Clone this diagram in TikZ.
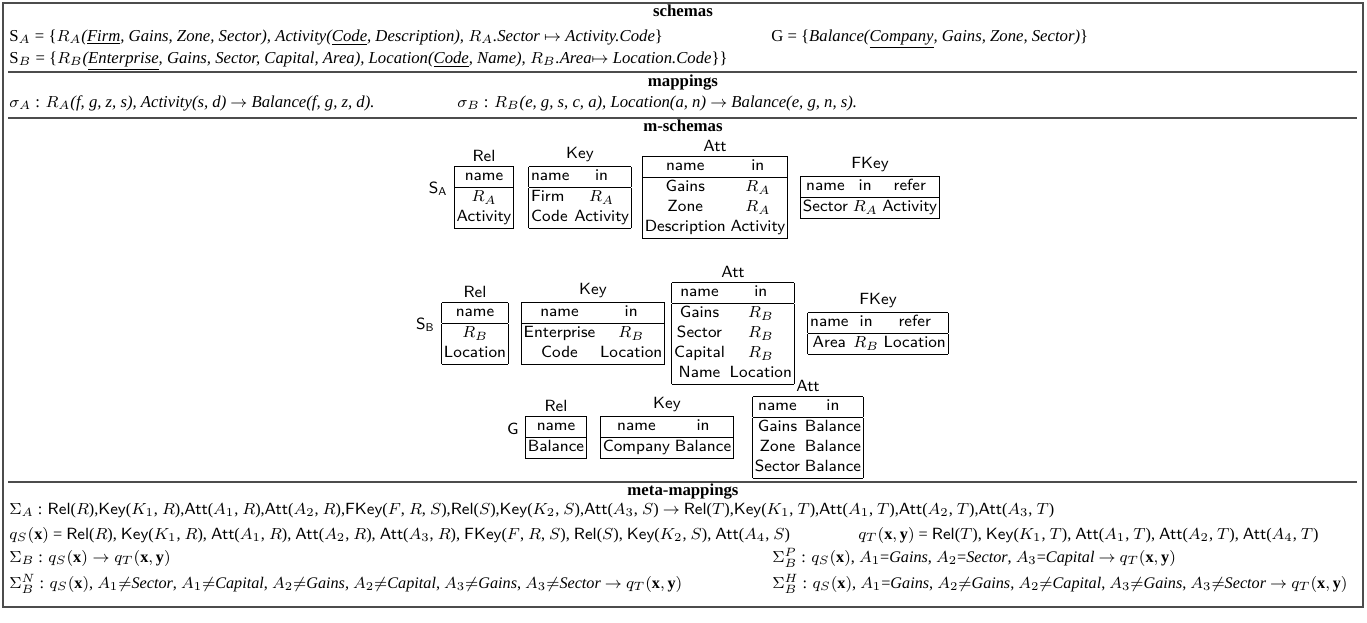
\documentclass[tikz,border=0pt]{standalone}
\usepackage{fontspec}
\setmainfont{Liberation Serif}
\usetikzlibrary{positioning}
\newcommand{\uln}[1]{\underline{#1}}
\newcommand{\bx}{\mathbf{x}}
\newcommand{\by}{\mathbf{y}}
\setlength{\arrayrulewidth}{0.5pt}
\setlength{\tabcolsep}{1.2pt}
\renewcommand{\arraystretch}{1.0}
\begin{document}
\begin{tikzpicture}[x=0.5pt,y=-0.5pt,
  txt/.style={anchor=base west,inner sep=0pt,font=\fontsize{8.35}{10}\selectfont},
  mtxt/.style={anchor=base west,inner sep=0pt,font=\fontsize{8.1}{10}\selectfont},
  hdr/.style={anchor=base,inner sep=0pt,font=\fontsize{8.4}{10}\selectfont\bfseries},
  tbl/.style={inner sep=0pt,font=\fontsize{8.1}{10}\selectfont\sffamily},
  tlab/.style={anchor=south,inner sep=0pt,yshift=1.5pt,font=\fontsize{8.1}{10}\selectfont\sffamily},
  slab/.style={anchor=east,inner sep=0pt,font=\fontsize{8.1}{10}\selectfont\sffamily},
  sepline/.style={draw=black!70,line width=0.7pt},
  framebox/.style={draw=black!70,line width=0.6pt}]
\useasboundingbox (0,0) rectangle (1367,622);
\draw[framebox] (3,3) rectangle (1363,607);
% separators
\coordinate (s1a) at (8,72); \coordinate (s1b) at (1357,72);
\coordinate (s2a) at (8,118); \coordinate (s2b) at (1357,118);
\coordinate (s3a) at (8,482); \coordinate (s3b) at (1357,482);
\draw[sepline] (s1a) -- (s1b);
\draw[sepline] (s2a) -- (s2b);
\draw[sepline] (s3a) -- (s3b);
% headers
\node[hdr] (hschemas) at (683,16) {schemas};
\node[hdr] (hmappings) at (683,86) {mappings};
\node[hdr] (hmschemas) at (683,131) {m-schemas};
\node[hdr] (hmeta) at (683,495) {meta-mappings};
% schemas
\node[txt] (sa) at (9,41) {S$_A$ = \{\textit{$R_A$(\uln{Firm}, Gains, Zone, Sector), Activity(\uln{Code}, Description), $R_A$.Sector} $\mapsto$ \textit{Activity.Code}\}};
\node[txt] (g) at (771,41) {G = \{\textit{Balance(\uln{Company}, Gains, Zone, Sector)}\}};
\node[txt] (sb) at (9,63) {S$_B$ = \{\textit{$R_B$(\uln{Enterprise}, Gains, Sector, Capital, Area), Location(\uln{Code}, Name), $R_B$.Area}$\mapsto$ \textit{Location.Code}\}\}};
% mappings
\node[txt] (siga) at (9,107) {$\sigma_A$ : \textit{$R_A$(f, g, z, s), Activity(s, d)} $\rightarrow$ \textit{Balance(f, g, z, d).}};
\node[txt] (sigb) at (457,107) {$\sigma_B$ : \textit{$R_B$(e, g, s, c, a), Location(a, n)} $\rightarrow$ \textit{Balance(e, g, n, s).}};
% m-schemas S_A
\node[tbl] (saRel) at (484,197) {\begin{tabular}{|c|}\hline name\\\hline $R_A$\\ Activity\\\hline\end{tabular}};
\node[tlab] (saRelL) at (saRel.north) {Rel};
\node[slab] (saL) at ([xshift=-3pt,yshift=4pt]saRel.west) {S\textsubscript{A}};
\node[tbl] (saKey) at (580,197) {\begin{tabular}{|lc|}\hline name & in\\\hline Firm & $R_A$\\ Code & Activity\\\hline\end{tabular}};
\node[tlab] (saKeyL) at (saKey.north) {Key};
\node[tbl] (saAtt) at (715,197) {\begin{tabular}{|cc|}\hline name & in\\\hline Gains & $R_A$\\ Zone & $R_A$\\ Description & Activity\\\hline\end{tabular}};
\node[tlab] (saAttL) at (saAtt.north) {Att};
\node[tbl] (saFKey) at (870,197) {\begin{tabular}{|ccc|}\hline name & in & refer\\\hline Sector & $R_A$ & Activity\\\hline\end{tabular}};
\node[tlab] (saFKeyL) at (saFKey.north) {FKey};
% m-schemas S_B
\node[tbl] (sbRel) at (475,333) {\begin{tabular}{|c|}\hline name\\\hline $R_B$\\ Location\\\hline\end{tabular}};
\node[tlab] (sbRelL) at (sbRel.north) {Rel};
\node[slab] (sbL) at ([xshift=-3pt,yshift=4pt]sbRel.west) {S\textsubscript{B}};
\node[tbl] (sbKey) at (593,333) {\begin{tabular}{|cc|}\hline name & in\\\hline Enterprise & $R_B$\\ Code & Location\\\hline\end{tabular}};
\node[tlab] (sbKeyL) at (sbKey.north) {Key};
\node[tbl] (sbAtt) at (733,333) {\begin{tabular}{|cc|}\hline name & in\\\hline Gains & $R_B$\\ Sector & $R_B$\\ Capital & $R_B$\\ Name & Location\\\hline\end{tabular}};
\node[tlab] (sbAttL) at (sbAtt.north) {Att};
\node[tbl] (sbFKey) at (878,333) {\begin{tabular}{|ccc|}\hline name & in & refer\\\hline Area & $R_B$ & Location\\\hline\end{tabular}};
\node[tlab] (sbFKeyL) at (sbFKey.north) {FKey};
% m-schemas G
\node[tbl] (gRel) at (556,437) {\begin{tabular}{|c|}\hline name\\\hline Balance\\\hline\end{tabular}};
\node[tlab] (gRelL) at (gRel.north) {Rel};
\node[slab] (gL) at ([xshift=-3pt,yshift=4pt]gRel.west) {G};
\node[tbl] (gKey) at (667,437) {\begin{tabular}{|cc|}\hline name & in\\\hline Company & Balance\\\hline\end{tabular}};
\node[tlab] (gKeyL) at (gKey.north) {Key};
\node[tbl] (gAtt) at (808,437) {\begin{tabular}{|cc|}\hline name & in\\\hline Gains & Balance\\ Zone & Balance\\ Sector & Balance\\\hline\end{tabular}};
\node[tlab] (gAttL) at (gAtt.north) {Att};
% meta-mappings
\node[mtxt] (SigA) at (9,514) {$\Sigma_A$ : \textsf{Rel}($R$),\textsf{Key}($K_1$, $R$),\textsf{Att}($A_1$, $R$),\textsf{Att}($A_2$, $R$),\textsf{FKey}($F$, $R$, $S$),\textsf{Rel}($S$),\textsf{Key}($K_2$, $S$),\textsf{Att}($A_3$, $S$) $\rightarrow$ \textsf{Rel}($T$),\textsf{Key}($K_1$, $T$),\textsf{Att}($A_1$, $T$),\textsf{Att}($A_2$, $T$),\textsf{Att}($A_3$, $T$)};
\node[mtxt] (qS) at (9,539) {$q_S(\bx)$ = \textsf{Rel}($R$), \textsf{Key}($K_1$, $R$), \textsf{Att}($A_1$, $R$), \textsf{Att}($A_2$, $R$), \textsf{Att}($A_3$, $R$), \textsf{FKey}($F$, $R$, $S$), \textsf{Rel}($S$), \textsf{Key}($K_2$, $S$), \textsf{Att}($A_4$, $S$)};
\node[mtxt] (qT) at (858,539) {$q_T(\bx, \by)$ = \textsf{Rel}($T$), \textsf{Key}($K_1$, $T$), \textsf{Att}($A_1$, $T$), \textsf{Att}($A_2$, $T$), \textsf{Att}($A_4$, $T$)};
\node[mtxt] (SigB) at (9,562) {$\Sigma_B$ : $q_S(\bx) \rightarrow q_T(\bx, \by)$};
\node[mtxt] (SigP) at (772,562) {$\Sigma^P_B$ : $q_S(\bx)$, $A_1$=\textit{Gains}, $A_2$=\textit{Sector}, $A_3$=\textit{Capital} $\rightarrow$ $q_T(\bx, \by)$};
\node[mtxt] (SigN) at (9,588) {$\Sigma^N_B$ : $q_S(\bx)$, $A_1{\neq}$\textit{Sector}, $A_1{\neq}$\textit{Capital}, $A_2{\neq}$\textit{Gains}, $A_2{\neq}$\textit{Capital}, $A_3{\neq}$\textit{Gains}, $A_3{\neq}$\textit{Sector} $\rightarrow$ $q_T(\bx, \by)$};
\node[mtxt] (SigH) at (772,588) {$\Sigma^H_B$ : $q_S(\bx)$, $A_1$=\textit{Gains}, $A_2{\neq}$\textit{Gains}, $A_2{\neq}$\textit{Capital}, $A_3{\neq}$\textit{Gains}, $A_3{\neq}$\textit{Sector} $\rightarrow$ $q_T(\bx, \by)$};
\end{tikzpicture}
\end{document}
